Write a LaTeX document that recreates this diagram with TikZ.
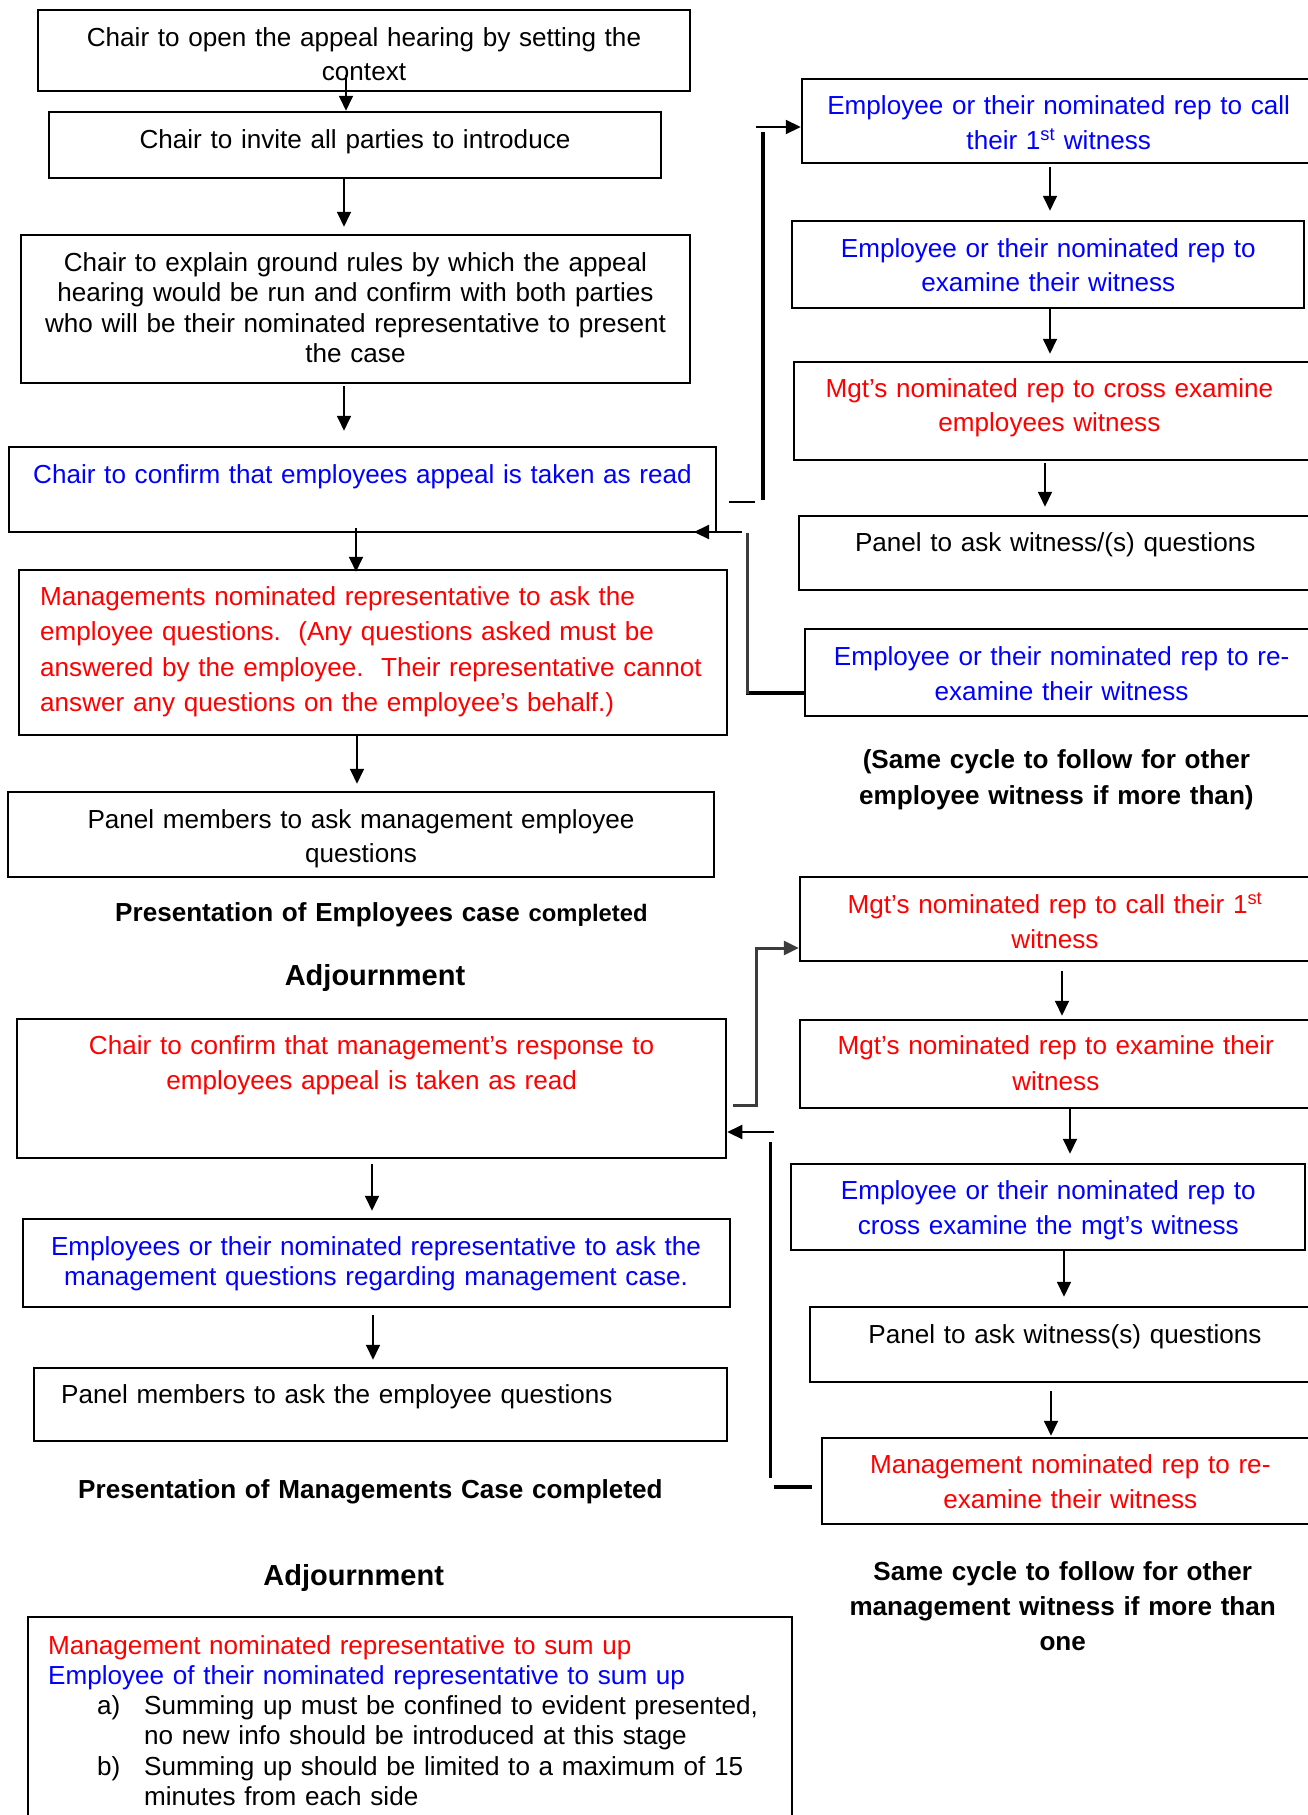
\documentclass[tikz,border=0pt]{standalone}
\usepackage{fontspec}
\setmainfont{Liberation Sans}
\usetikzlibrary{arrows.meta,fit}
\definecolor{eblue}{RGB}{0,0,255}
\definecolor{mred}{RGB}{255,0,0}
\definecolor{lgray}{RGB}{60,60,60}
\begin{document}
\begin{tikzpicture}[x=1pt,y=-1pt,
  box/.style={draw, line width=2.5pt, inner sep=0pt},
  tc/.style={anchor=base, align=center, text width=800pt, inner sep=0pt},
  tl/.style={anchor=base west, align=left, text width=800pt, inner sep=0pt},
  fs/.style={font=\fontsize{26.1pt}{#1pt}\selectfont},
  hb/.style={font=\fontsize{26.1pt}{#1pt}\selectfont\bfseries},
  arr/.style={line width=1.8pt, -{Triangle[length=15pt,width=14pt]}},
  lnkg/.style={line width=3pt, draw=lgray}]
\fill[white] (0,0) rectangle (1307,1815);
\useasboundingbox (0,0) rectangle (1307,1815);

% ---------- left column boxes ----------
\node[box, fit={(38,10) (690,91)}] (B1) {};
\node[box, fit={(49,112) (661,178)}] (B2) {};
\node[box, fit={(21,235) (690,383)}] (B3) {};
\node[box, fit={(9,447) (716,532)}] (B4) {};
\node[box, fit={(19,570) (727,735)}] (B5) {};
\node[box, fit={(8,792) (714,877)}] (B6) {};
\node[box, fit={(17,1019) (726,1158)}] (B7) {};
\node[box, fit={(23,1219) (730,1307)}] (B8) {};
\node[box, fit={(34,1368) (727,1441)}] (B9) {};
\node[box, fit={(28,1617) (792,1840)}] (B10) {};

% ---------- right column boxes ----------
\node[box, fit={(802,79) (1325,163)}] (R1) {};
\node[box, fit={(792,221) (1304,308)}] (R2) {};
\node[box, fit={(794,362) (1325,460)}] (R3) {};
\node[box, fit={(799,516) (1325,590)}] (R4) {};
\node[box, fit={(805,629) (1325,716)}] (R5) {};
\node[box, fit={(800,877) (1325,961)}] (R6) {};
\node[box, fit={(800,1020) (1325,1108)}] (R7) {};
\node[box, fit={(791,1164) (1305,1250)}] (R8) {};
\node[box, fit={(810,1307) (1325,1382)}] (R9) {};
\node[box, fit={(822,1438) (1325,1524)}] (R10) {};

% ---------- left texts ----------
\node[tc, fs=34] (t1) at (364,46) {Chair to open the appeal hearing by setting the\\context};
\node[tc, fs=34] (t2) at (355,148) {Chair to invite all parties to introduce};
\node[tc, fs=30.5] (t3) at (355.5,271) {Chair to explain ground rules by which the appeal\\hearing would be run and confirm with both parties\\who will be their nominated representative to present\\the case};
\node[tl, fs=34, text=eblue] (t4) at (33,483) {Chair to confirm that employees appeal is taken as read};
\node[tl, fs=35.5, text=mred] (t5) at (40,605) {Managements nominated representative to ask the\\employee questions.\ \ (Any questions asked must be\\answered by the employee.\ \ Their representative cannot\\answer any questions on the employee’s behalf.)};
\node[tc, fs=34.8] (t6) at (361,828) {Panel members to ask management employee\\questions};
\node[tl, hb=30] (h1) at (115,921) {Presentation of Employees case {\fontsize{23.8pt}{28pt}\selectfont completed}};
\node[tc, font=\fontsize{29pt}{34pt}\selectfont\bfseries] (h2) at (375,985) {Adjournment};
\node[tc, fs=35, text=mred] (t7) at (371.6,1054.5) {Chair to confirm that management’s response to\\employees appeal is taken as read};
\node[tc, fs=30.2, text=eblue] (t8) at (376,1255) {Employees or their nominated representative to ask the\\management questions regarding management case.};
\node[tl, fs=34] (t9) at (61,1403) {Panel members to ask the employee questions};
\node[tl, hb=30] (h3) at (78,1498) {Presentation of Managements Case completed};
\node[tc, font=\fontsize{29pt}{34pt}\selectfont\bfseries] (h4) at (353.7,1585) {Adjournment};
\node[tl, fs=30.3] (t10) at (48,1654) {\textcolor{mred}{Management nominated representative to sum up}\\
\textcolor{eblue}{Employee of their nominated representative to sum up}\\
\hspace*{49pt}\makebox[47pt][l]{a)}Summing up must be confined to evident presented,\\
\hspace*{96pt}no new info should be introduced at this stage\\
\hspace*{49pt}\makebox[47pt][l]{b)}Summing up should be limited to a maximum of 15\\
\hspace*{96pt}minutes from each side};

% ---------- right texts ----------
\node[tc, fs=34.7, text=eblue] (s1) at (1058.7,114.5) {Employee or their nominated rep to call\\their 1\textsuperscript{st} witness};
\node[tc, fs=34.7, text=eblue] (s2) at (1048.3,257) {Employee or their nominated rep to\\examine their witness};
\node[tc, fs=34.7, text=mred] (s3) at (1049.4,397) {Mgt’s nominated rep to cross examine\\employees witness};
\node[tc, fs=34.7] (s4) at (1055.2,551) {Panel to ask witness/(s) questions};
\node[tc, fs=34.7, text=eblue] (s5) at (1061.6,665.6) {Employee or their nominated rep to re-\\examine their witness};
\node[tc, hb=36] (h5) at (1056.4,768.6) {(Same cycle to follow for other\\employee witness if more than)};
\node[tc, fs=34.7, text=mred] (s6) at (1055,913.3) {Mgt’s nominated rep to call their 1\textsuperscript{st}\\witness};
\node[tc, fs=36, text=mred] (s7) at (1055.8,1054.5) {Mgt’s nominated rep to examine their\\witness};
\node[tc, fs=35, text=eblue] (s8) at (1048.3,1199) {Employee or their nominated rep to\\cross examine the mgt’s witness};
\node[tc, fs=34.7] (s9) at (1065,1343) {Panel to ask witness(s) questions};
\node[tc, fs=34.7, text=mred] (s10) at (1070.3,1473.6) {Management nominated rep to re-\\examine their witness};
\node[tc, hb=35.4] (h6) at (1062.7,1580) {Same cycle to follow for other\\management witness if more than\\one};

% ---------- vertical arrows, left ----------
\coordinate (c1) at (346,75);
\draw[arr] (c1) -- (B2.north -| c1);
\draw[arr, shorten >=7pt] (B2.south -| 344,0) -- (B3.north -| 344,0);
\draw[arr, shorten <=2pt, shorten >=15pt] (B3.south -| 344,0) -- (B4.north -| 344,0);
\draw[arr, shorten <=-5pt, shorten >=-3pt] (B4.south -| 356,0) -- (B5.north -| 356,0);
\draw[arr, shorten >=7pt] (B5.south -| 357,0) -- (B6.north -| 357,0);
\draw[arr, shorten <=5pt, shorten >=7pt] (B7.south -| 372,0) -- (B8.north -| 372,0);
\draw[arr, shorten <=7pt, shorten >=7pt] (B8.south -| 373,0) -- (B9.north -| 373,0);

% ---------- vertical arrows, right ----------
\draw[arr, shorten <=3pt, shorten >=9pt] (R1.south -| 1050,0) -- (R2.north -| 1050,0);
\draw[arr, shorten >=7pt] (R2.south -| 1050,0) -- (R3.north -| 1050,0);
\draw[arr, shorten <=2pt, shorten >=8pt] (R3.south -| 1045,0) -- (R4.north -| 1045,0);
\draw[arr, shorten <=9pt, shorten >=3pt] (R6.south -| 1062,0) -- (R7.north -| 1062,0);
\draw[arr, shorten >=9pt] (R7.south -| 1070,0) -- (R8.north -| 1070,0);
\draw[arr, shorten >=9pt] (R8.south -| 1064,0) -- (R9.north -| 1064,0);
\draw[arr, shorten <=8pt, shorten >=1pt] (R9.south -| 1051,0) -- (R10.north -| 1051,0);

% ---------- employee witness loop ----------
\coordinate (u1) at (729,502);
\coordinate (u2) at (755,502);
\coordinate (u3) at (763,500);
\coordinate (u4) at (763,132);
\coordinate (u5) at (756,127);
\draw[line width=2.5pt] (u1) -- (u2);
\draw[line width=4.5pt] (u3) -- (u4);
\draw[arr, line width=2.2pt] (u5) -- (R1.west |- u5);
\coordinate (v1) at (746,693);
\coordinate (v2) at (747,694);
\coordinate (v3) at (747,533);
\coordinate (v4) at (742,532);
\coordinate (v5) at (694,532);
\draw[line width=3.5pt] (R5.west |- v1) -- (v1);
\draw[lnkg] (v2) -- (v3);
\draw[arr, line width=2.2pt] (v4) -- (v5);

% ---------- management witness loop ----------
\coordinate (m1) at (733,1105);
\coordinate (m2) at (756,948);
\draw[arr, line width=3pt, draw=lgray] (m1) -| (m2) -- (R6.west |- m2);
\coordinate (n1) at (812,1487);
\coordinate (n2) at (774,1487);
\coordinate (n3) at (770,1478);
\coordinate (n4) at (770,1142);
\coordinate (n5) at (774,1132);
\draw[line width=3.2pt] (n1) -- (n2);
\draw[line width=3pt] (n3) -- (n4);
\draw[arr, line width=2.2pt] (n5) -- (B7.east |- n5);
\end{tikzpicture}
\end{document}
